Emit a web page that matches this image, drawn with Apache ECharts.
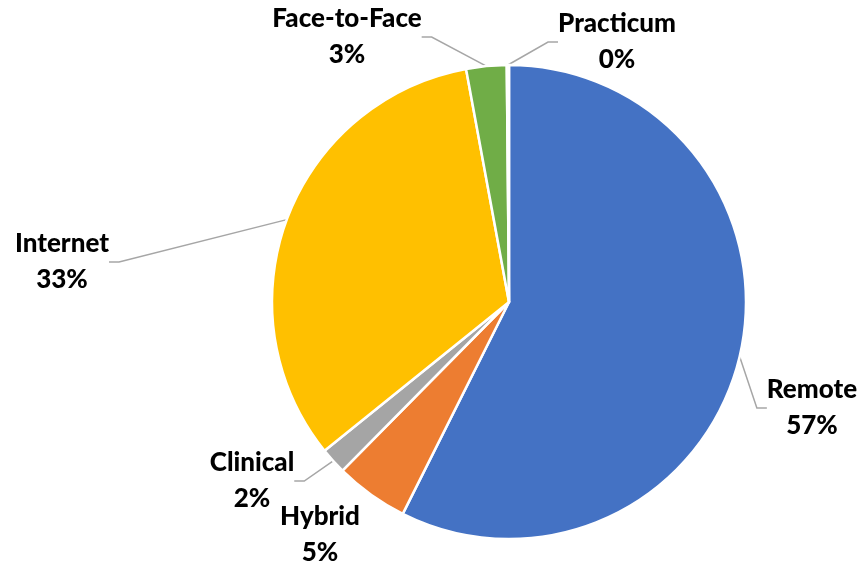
<!DOCTYPE html>
<html>
<head>
<meta charset="utf-8">
<script src="https://cdn.jsdelivr.net/npm/echarts@6/dist/echarts.min.js"></script>
<style>
  html, body { margin: 0; padding: 0; background: #fff; }
  #chart { width: 863px; height: 567px; }
</style>
</head>
<body>
<div id="chart"></div>
<script>
var categories = ['Remote', 'Hybrid', 'Clinical', 'Internet', 'Face-to-Face', 'Practicum'];
var shares = [57.4, 5.0, 1.8, 32.9, 2.75, 0.15];
var colors = ['#4472C4', '#ED7D31', '#A5A5A5', '#FFC000', '#70AD47', '#5B9BD5'];

// where each label block sits (centre of the two text lines)
var labelSpots = [
  [812, 408],
  [320, 535],
  [252, 481],
  [62, 262],
  [347, 37],
  [617, 42]
];

var chart = echarts.init(document.getElementById('chart'));

var pieData = categories.map(function (name, i) {
  var item = {
    name: name,
    value: shares[i],
    itemStyle: { color: colors[i] }
  };
  if (name === 'Hybrid') {
    item.labelLine = { show: false };
  }
  return item;
});

chart.setOption({
  animation: false,
  series: [{
    type: 'pie',
    center: [509, 302],
    radius: 237,
    startAngle: 90,
    clockwise: true,
    avoidLabelOverlap: false,
    itemStyle: {
      borderColor: '#fff',
      borderWidth: 2.5
    },
    label: {
      show: true,
      position: 'outside',
      fontFamily: 'Lato',
      fontWeight: 900,
      fontSize: 26,
      lineHeight: 36,
      color: '#000',
      align: 'center',
      formatter: function (p) {
        return p.name + '\n' + Math.round(p.percent) + '%';
      }
    },
    labelLine: {
      show: true,
      length: 10,
      length2: 10,
      lineStyle: { color: '#A6A6A6', width: 1.5 }
    },
    labelLayout: function (params) {
      var spot = labelSpots[params.dataIndex];
      return {
        x: spot[0],
        y: spot[1],
        align: 'center',
        verticalAlign: 'middle'
      };
    },
    data: pieData
  }]
});
</script>
</body>
</html>
